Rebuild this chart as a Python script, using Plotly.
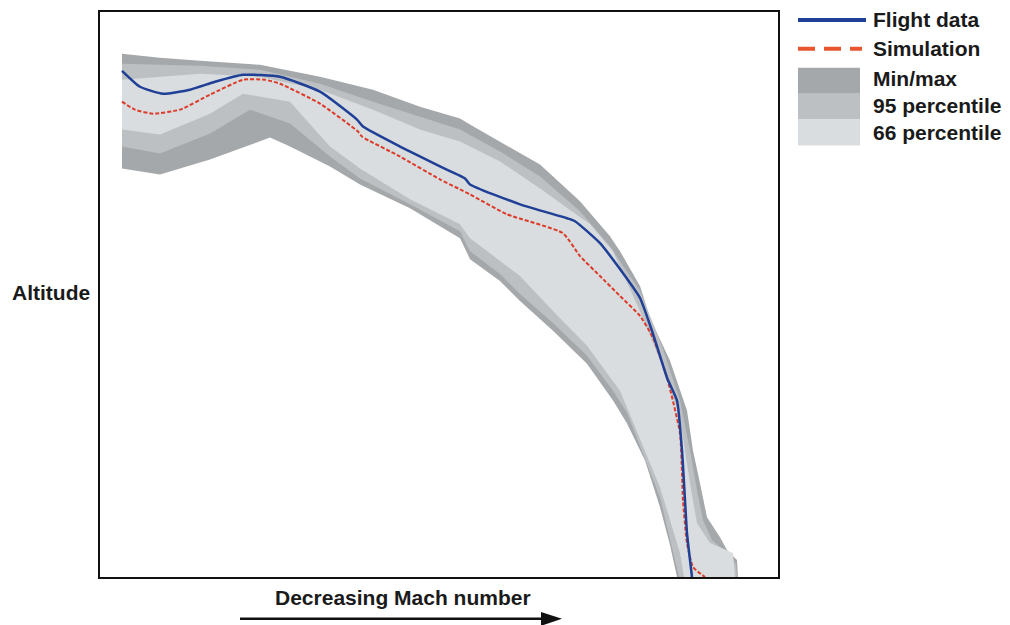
import plotly.graph_objects as go

# ---- Data (horizontal: decreasing Mach number, vertical: altitude; arbitrary units) ----
# Flight data trajectory
flight_x = [22, 40, 63, 90, 115, 143, 180, 220, 257, 263, 300, 340, 365, 370, 420, 467, 475, 500, 520, 540, 553, 567, 577, 582, 585, 587, 592]
flight_y = [508, 492, 485, 489, 497, 504, 502, 487, 459, 452, 432, 412, 400, 394, 374, 360, 357, 335, 309, 280, 244, 200, 177, 127, 77, 44, 0]

# Simulation trajectory
sim_x = [22, 35, 53, 80, 110, 143, 165, 180, 220, 258, 262, 300, 340, 360, 370, 407, 463, 480, 500, 520, 540, 553, 567, 580, 583, 587, 593, 605]
sim_y = [477, 469, 465, 469, 484, 499, 499, 495, 475, 447, 442, 422, 399, 389, 384, 364, 345, 322, 302, 282, 262, 240, 200, 144, 77, 34, 10, 0]

# Min/max envelope (outer edge then inner edge)
minmax_outer_x = [22, 60, 100, 160, 220, 273, 320, 360, 370, 400, 440, 480, 510, 520, 540, 550, 570, 587, 593, 600, 607, 620, 627, 637, 638]
minmax_outer_y = [525, 521, 518, 514, 502, 489, 472, 460, 454, 437, 414, 377, 342, 327, 292, 260, 217, 167, 127, 94, 60, 40, 27, 17, 0]
minmax_inner_x = [577, 570, 560, 545, 527, 513, 487, 453, 420, 400, 370, 360, 310, 260, 230, 190, 170, 110, 60, 22]
minmax_inner_y = [0, 32, 70, 117, 154, 177, 214, 247, 277, 297, 319, 340, 370, 394, 412, 432, 441, 419, 404, 410]

# 95 percentile envelope
p95_outer_x = [22, 100, 160, 220, 273, 320, 360, 400, 440, 480, 510, 540, 560, 580, 590, 597, 603, 612, 630, 636, 637]
p95_outer_y = [515, 513, 509, 495, 477, 462, 449, 427, 402, 367, 332, 287, 237, 177, 127, 87, 57, 37, 22, 12, 0]
p95_inner_x = [579, 575, 560, 527, 513, 487, 453, 420, 400, 370, 360, 310, 260, 230, 190, 150, 110, 60, 22]
p95_inner_y = [0, 17, 80, 165, 187, 222, 255, 284, 304, 327, 347, 374, 400, 422, 455, 469, 445, 425, 432]

# 66 percentile envelope
p66_outer_x = [22, 60, 100, 160, 220, 273, 320, 360, 400, 440, 490, 513, 543, 563, 580, 590, 597, 610, 633, 635]
p66_outer_y = [499, 502, 505, 502, 489, 469, 449, 437, 417, 390, 354, 327, 260, 210, 160, 94, 54, 34, 24, 0]
p66_inner_x = [584, 580, 560, 520, 487, 453, 420, 370, 360, 310, 260, 230, 190, 143, 110, 60, 22]
p66_inner_y = [0, 24, 90, 187, 232, 267, 302, 340, 354, 379, 410, 432, 477, 485, 465, 444, 449]

legend_labels = ["Flight data", "Simulation", "Min/max", "95 percentile", "66 percentile"]
x_label = "Decreasing Mach number"
y_label = "Altitude"

# ---- Styles ----
C_MINMAX = "#a5a8aa"
C_P95 = "#bdc0c2"
C_P66 = "#d9dddf"
C_FLIGHT = "#203f96"
C_SIM = "#dd3b2a"
C_SIM_LEG = "#e8552e"
FONT = "Liberation Sans"
FS = 21

fig = go.Figure()


def band(ox, oy, ix, iy, color, name):
    fig.add_trace(go.Scatter(
        x=ox + ix, y=oy + iy, fill="toself", fillcolor=color,
        mode="lines", line=dict(width=0, color=color), name=name,
        hoverinfo="skip", showlegend=False,
    ))


band(minmax_outer_x, minmax_outer_y, minmax_inner_x, minmax_inner_y, C_MINMAX, legend_labels[2])
band(p95_outer_x, p95_outer_y, p95_inner_x, p95_inner_y, C_P95, legend_labels[3])
band(p66_outer_x, p66_outer_y, p66_inner_x, p66_inner_y, C_P66, legend_labels[4])

fig.add_trace(go.Scatter(x=sim_x, y=sim_y, mode="lines", name=legend_labels[1],
                         line=dict(color=C_SIM, width=2, dash="4px,2px", shape="spline", smoothing=0.5),
                         showlegend=False))
fig.add_trace(go.Scatter(x=flight_x, y=flight_y, mode="lines", name=legend_labels[0],
                         line=dict(color=C_FLIGHT, width=2.5, shape="spline", smoothing=0.5),
                         showlegend=False))

W, H = 1010, 625
L, R, T, B = 100, 778, 10, 577


def px(xp):
    return (xp - L) / (R - L)


def py(yp):
    return (B - yp) / (B - T)


shapes = []
annotations = []
# legend: lines
shapes.append(dict(type="line", xref="paper", yref="paper", x0=px(798), x1=px(866), y0=py(18), y1=py(18),
                   line=dict(color=C_FLIGHT, width=4)))
shapes.append(dict(type="line", xref="paper", yref="paper", x0=px(798), x1=px(862), y0=py(47), y1=py(47),
                   line=dict(color=C_SIM_LEG, width=4, dash="17px,9px")))
# legend: swatches
for (y0, y1, c) in [(66, 92, C_MINMAX), (92, 118, C_P95), (118, 144, C_P66)]:
    shapes.append(dict(type="rect", xref="paper", yref="paper", x0=px(798), x1=px(860), y0=py(y1), y1=py(y0),
                       fillcolor=c, line=dict(width=0)))
for lab, yy in zip(legend_labels, [18, 47, 77, 104, 131]):
    annotations.append(dict(text="<b>%s</b>" % lab, xref="paper", yref="paper", x=px(871), y=py(yy),
                            xanchor="left", yanchor="middle", showarrow=False,
                            font=dict(family=FONT, size=FS, color="#1a1a1a")))
# axis labels
annotations.append(dict(text="<b>%s</b>" % y_label, xref="paper", yref="paper", x=px(10), y=py(291),
                        xanchor="left", yanchor="middle", showarrow=False,
                        font=dict(family=FONT, size=FS, color="#1a1a1a")))
annotations.append(dict(text="<b>%s</b>" % x_label, xref="paper", yref="paper", x=px(403), y=py(598),
                        xanchor="center", yanchor="middle", showarrow=False,
                        font=dict(family=FONT, size=FS, color="#1a1a1a")))
# arrow
shapes.append(dict(type="line", xref="paper", yref="paper", x0=px(240), x1=px(545), y0=py(619), y1=py(619),
                   line=dict(color="#111111", width=2.5)))
shapes.append(dict(type="path", xref="paper", yref="paper",
                   path="M %f %f L %f %f L %f %f Z" % (px(541), py(612), px(562), py(619), px(541), py(626)),
                   fillcolor="#111111", line=dict(width=0)))

fig.update_layout(
    width=W, height=H,
    margin=dict(l=L, r=W - R, t=T, b=H - B, pad=0),
    paper_bgcolor="white", plot_bgcolor="white",
    shapes=shapes, annotations=annotations,
    xaxis=dict(range=[0, 678], showgrid=False, zeroline=False, showticklabels=False, ticks="",
               showline=True, mirror=True, linecolor="#111111", linewidth=2),
    yaxis=dict(range=[0, 567], showgrid=False, zeroline=False, showticklabels=False, ticks="",
               showline=True, mirror=True, linecolor="#111111", linewidth=2),
    showlegend=False,
)

fig.write_html("out.html", config={"displayModeBar": False},
               post_script="document.body.style.margin='0px';document.body.style.overflow='hidden';")
